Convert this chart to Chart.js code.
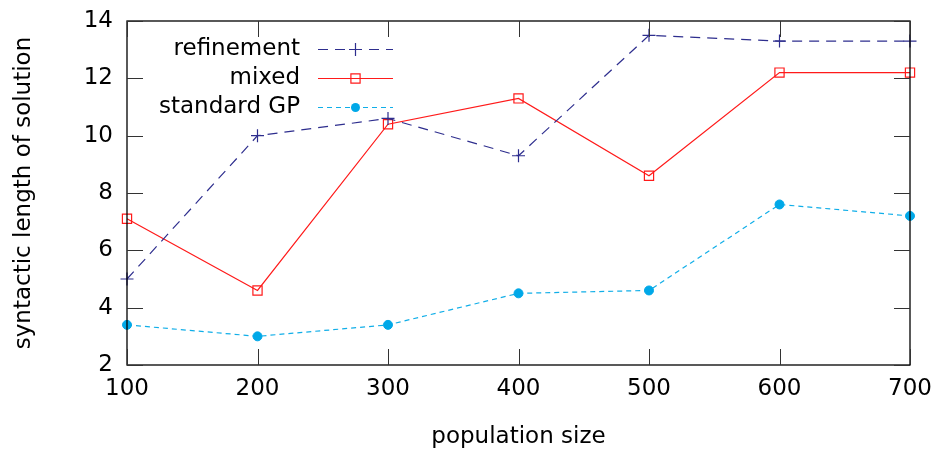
<!DOCTYPE html>
<html>
<head>
<meta charset="utf-8">
<script src="https://cdn.jsdelivr.net/npm/chart.js@4/dist/chart.umd.min.js"></script>
<style>
  html, body { margin: 0; padding: 0; background: #fff; }
  #wrap { width: 934px; height: 451px; }
</style>
</head>
<body>
<div id="wrap"><canvas id="chart"></canvas></div>
<script>
const popSizes = [100, 200, 300, 400, 500, 600, 700];
const refinement = [5.0, 10.0, 10.6, 9.3, 13.5, 13.3, 13.3];
const mixed = [7.1, 4.6, 10.4, 11.3, 8.6, 12.2, 12.2];
const standardGP = [3.4, 3.0, 3.4, 4.5, 4.6, 7.6, 7.2];
const yTicks = [2, 4, 6, 8, 10, 12, 14];

const FONT = 'DejaVu Sans';
const FSIZE = 23;

function toPoints(values) {
    return popSizes.map((x, i) => ({ x: x, y: values[i] }));
}

// gnuplot-like frame with inward ticks on all four sides
const framePlugin = {
    id: 'frame',
    afterDatasetsDraw(chart) {
        const ctx = chart.ctx;
        const a = chart.chartArea;
        const xs = chart.scales.x, ys = chart.scales.y;
        ctx.save();
        ctx.strokeStyle = '#000';
        ctx.lineWidth = 1.3;
        ctx.strokeRect(a.left, a.top, a.right - a.left, a.bottom - a.top);
        ctx.lineWidth = 1;
        ctx.strokeStyle = '#333';
        const len = 16;
        popSizes.forEach(v => {
            const px = Math.round(xs.getPixelForValue(v)) + 0.5;
            ctx.beginPath();
            ctx.moveTo(px, a.bottom); ctx.lineTo(px, a.bottom - len);
            ctx.moveTo(px, a.top); ctx.lineTo(px, a.top + len);
            ctx.stroke();
        });
        yTicks.forEach(v => {
            const py = Math.round(ys.getPixelForValue(v)) + 0.5;
            ctx.beginPath();
            ctx.moveTo(a.left, py); ctx.lineTo(a.left + len, py);
            ctx.moveTo(a.right, py); ctx.lineTo(a.right - len, py);
            ctx.stroke();
        });
        ctx.restore();
    }
};

// key drawn inside the plot, top left, gnuplot style
const keyPlugin = {
    id: 'key',
    afterDatasetsDraw(chart) {
        const ctx = chart.ctx;
        const textRight = 300, lineL = 318, lineR = 393;
        const cx = (lineL + lineR) / 2;
        const rows = [49, 78, 107];
        ctx.save();
        ctx.font = FSIZE + 'px ' + FONT;
        ctx.textAlign = 'right';
        ctx.textBaseline = 'middle';
        chart.data.datasets.forEach((ds, i) => {
            const y = rows[i] + 0.5;
            ctx.fillStyle = '#000';
            ctx.fillText(ds.label, textRight, y);
            ctx.strokeStyle = ds.borderColor;
            ctx.lineWidth = ds.borderWidth;
            ctx.setLineDash(ds.borderDash || []);
            ctx.beginPath();
            ctx.moveTo(lineL, y); ctx.lineTo(lineR, y);
            ctx.stroke();
            ctx.setLineDash([]);
            ctx.fillStyle = ds.pointBackgroundColor;
            ctx.strokeStyle = ds.pointBorderColor;
            ctx.lineWidth = ds.pointBorderWidth || 1;
            ctx.beginPath();
            if (ds.pointStyle === 'circle') {
                ctx.arc(cx, y, ds.pointRadius, 0, Math.PI * 2);
                ctx.fill();
            } else if (ds.pointStyle === 'rect') {
                const r = ds.pointRadius * Math.SQRT1_2;
                ctx.rect(cx - r, y - r, 2 * r, 2 * r);
                ctx.stroke();
            } else {
                const r = ds.pointRadius;
                ctx.moveTo(cx - r, y); ctx.lineTo(cx + r, y);
                ctx.moveTo(cx, y - r); ctx.lineTo(cx, y + r);
                ctx.stroke();
            }
        });
        ctx.restore();
    }
};

new Chart(document.getElementById('chart'), {
    type: 'line',
    data: {
        datasets: [
            {
                label: 'refinement',
                data: toPoints(refinement),
                borderColor: '#2e2e8e',
                borderWidth: 1.2,
                borderDash: [10, 7],
                pointStyle: 'cross',
                pointRadius: 6.5,
                pointBorderWidth: 1.2,
                pointBorderColor: '#2e2e8e',
                pointBackgroundColor: '#2e2e8e',
                tension: 0
            },
            {
                label: 'mixed',
                data: toPoints(mixed),
                borderColor: '#ff1a1a',
                borderWidth: 1.2,
                borderDash: [],
                pointStyle: 'rect',
                pointRadius: 6.5,
                pointBorderWidth: 1.2,
                pointBorderColor: '#ff1a1a',
                pointBackgroundColor: 'rgba(255,255,255,0)',
                tension: 0
            },
            {
                label: 'standard GP',
                data: toPoints(standardGP),
                borderColor: '#10aee8',
                borderWidth: 1.2,
                borderDash: [5, 4],
                pointStyle: 'circle',
                pointRadius: 4.5,
                pointBorderWidth: 1,
                pointBorderColor: '#00a8e8',
                pointBackgroundColor: '#00a8e8',
                tension: 0
            }
        ]
    },
    options: {
        responsive: true,
        maintainAspectRatio: false,
        animation: false,
        clip: false,
        layout: { padding: 0 },
        plugins: {
            legend: { display: false },
            tooltip: { enabled: false }
        },
        scales: {
            x: {
                type: 'linear',
                min: 100,
                max: 700,
                afterBuildTicks(scale) { scale.ticks = popSizes.map(v => ({ value: v })); },
                afterFit(scale) {
                    scale.height = 86;
                    scale.paddingLeft = 0;
                    scale.paddingRight = 24;
                },
                grid: { display: false, drawTicks: false },
                border: { display: false },
                ticks: { color: '#000', font: { family: FONT, size: FSIZE }, padding: 10, maxRotation: 0 },
                title: {
                    display: true,
                    text: 'population size',
                    color: '#000',
                    font: { family: FONT, size: FSIZE },
                    padding: { top: 12, bottom: 0 }
                }
            },
            y: {
                min: 2,
                max: 14,
                afterBuildTicks(scale) { scale.ticks = yTicks.map(v => ({ value: v })); },
                afterFit(scale) {
                    scale.width = 127;
                    scale.paddingTop = 21;
                    scale.paddingBottom = 0;
                },
                grid: { display: false, drawTicks: false },
                border: { display: false },
                ticks: { color: '#000', font: { family: FONT, size: FSIZE }, padding: 14 },
                title: {
                    display: true,
                    text: 'syntactic length of solution',
                    color: '#000',
                    font: { family: FONT, size: FSIZE },
                    padding: { top: 10, bottom: 10 }
                }
            }
        }
    },
    plugins: [framePlugin, keyPlugin]
});
</script>
</body>
</html>
